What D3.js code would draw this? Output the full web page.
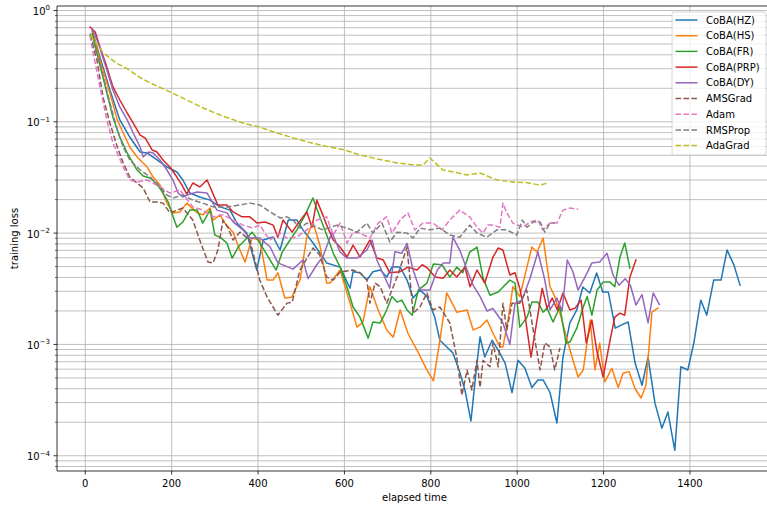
<!DOCTYPE html>
<html><head><meta charset="utf-8">
<script src="https://cdn.jsdelivr.net/npm/d3@7"></script>
<style>body{margin:0;background:#fff} svg text{font-family:"DejaVu Sans",sans-serif;fill:#000}</style>
</head><body><svg id="c" width="767" height="508"></svg>
<script>
const seriesNames = ["CoBA(HZ)","CoBA(HS)","CoBA(FR)","CoBA(PRP)","CoBA(DY)","AMSGrad","Adam","RMSProp","AdaGrad"];
const seriesColors = ["#1f77b4","#ff7f0e","#2ca02c","#d62728","#9467bd","#8c564b","#e377c2","#7f7f7f","#bcbd22"];
const seriesDashed = [false,false,false,false,false,true,true,true,true];
const xTicks = [0,200,400,600,800,1000,1200,1400];
const yTicks = [1e-4,1e-3,1e-2,1e-1,1];
const yTickExp = ["\u22124","\u22123","\u22122","\u22121","0"];

// [elapsed time, training loss]
const cobaHZ = [[16,0.65],[34,0.38],[57,0.193],[80,0.104],[103,0.073],[127,0.0535],[143,0.0525],[166,0.0454],[189,0.0393],[212,0.0354],[226,0.030],[242,0.0229],[265,0.0211],[289,0.0198],[312,0.0172],[335,0.0161],[351,0.0123],[374,0.0100],[397,0.00466],[412,0.00867],[435,0.00923],[451,0.00705],[470,0.0131],[490,0.0131],[504,0.0107],[527,0.0082],[559,0.0054],[590,0.00495],[613,0.0032],[620,0.0045],[636,0.0044],[652,0.00379],[666,0.0045],[683,0.00466],[698,0.00403],[710,0.00495],[729,0.00495],[745,0.00379],[759,0.00261],[775,0.00308],[791,0.0027],[809,0.00176],[821,0.00109],[837,0.00095],[851,0.00084],[867,0.000565],[879,0.00039],[893,0.000205],[905,0.000585],[914,0.00117],[925,0.00077],[942,0.00109],[956,0.00089],[972,0.00068],[988,0.00037],[1002,0.00072],[1018,0.00061],[1034,0.00041],[1048,0.00048],[1060,0.00048],[1076,0.00037],[1092,0.000197],[1106,0.00077],[1122,0.00156],[1138,0.00204],[1152,0.00328],[1168,0.0029],[1184,0.00438],[1198,0.00296],[1211,0.00296],[1227,0.0014],[1242,0.0015],[1257,0.00159],[1273,0.00068],[1289,0.00043],[1303,0.00077],[1319,0.000297],[1335,0.000177],[1349,0.000247],[1365,0.000112],[1379,0.00063],[1395,0.00059],[1409,0.00103],[1425,0.0025],[1439,0.00183],[1455,0.00379],[1472,0.00379],[1486,0.00705],[1502,0.00516],[1516,0.00341]];
const cobaHS = [[16,0.66],[34,0.359],[57,0.181],[74,0.104],[88,0.0793],[103,0.0594],[120,0.0483],[143,0.0393],[157,0.0319],[173,0.027],[189,0.0186],[203,0.0152],[219,0.0155],[235,0.0186],[259,0.0152],[272,0.0146],[289,0.0168],[296,0.0131],[312,0.0146],[323,0.0123],[342,0.0102],[358,0.00705],[370,0.0055],[386,0.00904],[404,0.00867],[421,0.00379],[435,0.00379],[446,0.0044],[462,0.00261],[478,0.00266],[497,0.00379],[513,0.00923],[527,0.0126],[543,0.00782],[559,0.00356],[567,0.00356],[590,0.00466],[613,0.00235],[629,0.00143],[643,0.00159],[659,0.0033],[678,0.00204],[698,0.00135],[713,0.00116],[729,0.00204],[747,0.00126],[768,0.00089],[780,0.00072],[791,0.00059],[806,0.00047],[821,0.00109],[837,0.0029],[860,0.00195],[884,0.00204],[898,0.00135],[914,0.00143],[930,0.00166],[944,0.00126],[960,0.00095],[967,0.00095],[979,0.00166],[990,0.0033],[1006,0.0027],[1034,0.0075],[1046,0.00676],[1060,0.00904],[1076,0.0033],[1087,0.0027],[1099,0.00191],[1116,0.00109],[1127,0.00077],[1141,0.00051],[1153,0.00059],[1169,0.00166],[1180,0.00059],[1191,0.00103],[1203,0.00046],[1219,0.00061],[1234,0.00041],[1245,0.00055],[1259,0.00057],[1273,0.0004],[1287,0.00033],[1298,0.00043],[1312,0.00195],[1326,0.00212]];
const cobaFR = [[16,0.62],[27,0.415],[50,0.181],[64,0.110],[80,0.073],[97,0.0525],[120,0.0369],[134,0.0326],[150,0.0313],[166,0.0276],[180,0.0229],[192,0.019],[201,0.0149],[212,0.0113],[226,0.0126],[242,0.0161],[259,0.0161],[272,0.0123],[289,0.0161],[300,0.0096],[312,0.0092],[328,0.00815],[340,0.00597],[354,0.0075],[370,0.00867],[386,0.0102],[400,0.00867],[414,0.00705],[428,0.00573],[442,0.00466],[456,0.00676],[474,0.00867],[490,0.0107],[509,0.0146],[527,0.0207],[543,0.0140],[559,0.0096],[574,0.00662],[590,0.00495],[606,0.00328],[620,0.00217],[636,0.00176],[655,0.00114],[666,0.00159],[683,0.00156],[698,0.00204],[710,0.0027],[722,0.0024],[733,0.0025],[745,0.00204],[757,0.00183],[771,0.00308],[791,0.00356],[806,0.00527],[826,0.0052],[844,0.00403],[860,0.00495],[874,0.0044],[890,0.00676],[907,0.0075],[921,0.00394],[937,0.00277],[956,0.00296],[983,0.00379],[995,0.00356],[1006,0.00143],[1023,0.00176],[1034,0.0024],[1048,0.0024],[1060,0.00195],[1069,0.00212],[1083,0.00159],[1099,0.00217],[1113,0.00103],[1122,0.00105],[1138,0.0014],[1153,0.00217],[1162,0.0027],[1173,0.00183],[1185,0.00308],[1199,0.00363],[1215,0.00363],[1226,0.0033],[1238,0.0061],[1249,0.00815],[1261,0.00485]];
const cobaPRP = [[11,0.71],[23,0.64],[34,0.47],[50,0.31],[64,0.206],[80,0.157],[97,0.12],[111,0.0975],[127,0.076],[139,0.0715],[155,0.0558],[166,0.0535],[180,0.0454],[196,0.0393],[212,0.0319],[224,0.027],[235,0.0224],[249,0.0282],[265,0.026],[282,0.030],[296,0.0224],[307,0.0179],[328,0.0179],[342,0.0155],[363,0.0140],[381,0.0140],[398,0.0123],[416,0.0126],[435,0.0118],[446,0.0092],[458,0.0131],[479,0.0102],[493,0.0123],[504,0.014],[513,0.0155],[525,0.0113],[536,0.0198],[548,0.0152],[559,0.0118],[574,0.00867],[590,0.0075],[606,0.0061],[620,0.0078],[636,0.0061],[659,0.00867],[675,0.00597],[690,0.00573],[705,0.0044],[729,0.0045],[747,0.00495],[768,0.00466],[780,0.0052],[791,0.0049],[810,0.00403],[829,0.00394],[844,0.00466],[860,0.00403],[879,0.00495],[891,0.0033],[907,0.00466],[925,0.00356],[944,0.0061],[956,0.00735],[967,0.00705],[983,0.0042],[995,0.0044],[1006,0.0032],[1018,0.00183],[1032,0.00077],[1058,0.0032],[1069,0.00212],[1081,0.00261],[1093,0.00204],[1106,0.0029],[1122,0.00204],[1134,0.00212],[1148,0.0025],[1160,0.00103],[1173,0.00166],[1185,0.00085],[1199,0.00051],[1215,0.00109],[1226,0.00176],[1238,0.00191],[1249,0.00183],[1261,0.00403],[1275,0.00573]];
const cobaDY = [[16,0.68],[30,0.51],[50,0.292],[64,0.193],[80,0.136],[97,0.104],[111,0.0793],[127,0.0594],[134,0.0483],[146,0.0535],[157,0.0525],[173,0.0454],[189,0.0369],[203,0.030],[215,0.0229],[226,0.0211],[235,0.022],[259,0.0234],[282,0.0229],[305,0.0161],[328,0.0152],[342,0.0126],[365,0.0107],[381,0.00904],[404,0.00904],[428,0.0075],[446,0.0054],[481,0.00475],[504,0.00573],[516,0.0039],[536,0.0052],[550,0.0061],[571,0.0102],[590,0.00676],[606,0.00597],[629,0.00597],[652,0.00705],[664,0.00867],[675,0.00573],[705,0.0032],[717,0.0068],[733,0.0066],[745,0.0081],[759,0.00466],[775,0.00308],[798,0.00308],[815,0.00466],[829,0.0054],[844,0.0054],[851,0.0092],[867,0.00705],[884,0.00466],[898,0.0034],[914,0.0027],[930,0.002],[944,0.0021],[956,0.0018],[967,0.00156],[983,0.001],[995,0.00235],[1011,0.0025],[1030,0.00395],[1048,0.00676],[1064,0.00379],[1076,0.00204],[1092,0.00261],[1104,0.002],[1116,0.00573],[1129,0.0045],[1141,0.00308],[1162,0.0044],[1173,0.0054],[1191,0.0055],[1208,0.0066],[1222,0.0042],[1236,0.0034],[1250,0.0039],[1262,0.0034],[1275,0.00226],[1289,0.0028],[1303,0.00156],[1315,0.0029],[1329,0.00229]];
const amsGrad = [[11,0.6],[27,0.359],[41,0.167],[57,0.0975],[74,0.0594],[88,0.0427],[103,0.0319],[120,0.0282],[134,0.0254],[150,0.019],[166,0.019],[180,0.0186],[196,0.0152],[226,0.0168],[249,0.0131],[265,0.00867],[284,0.0055],[296,0.0054],[307,0.00705],[319,0.0131],[331,0.0111],[342,0.00867],[358,0.0102],[381,0.00867],[404,0.00379],[421,0.00266],[446,0.00183],[467,0.00235],[479,0.0024],[497,0.00466],[527,0.00735],[543,0.00635],[559,0.00403],[574,0.00379],[590,0.00447],[620,0.00466],[636,0.0044],[652,0.00379],[659,0.00235],[671,0.00356],[683,0.0033],[698,0.00235],[722,0.00403],[745,0.0075],[759,0.00191],[775,0.00217],[791,0.0029],[805,0.00204],[821,0.00217],[844,0.00156],[860,0.00077],[872,0.00035],[884,0.00059],[895,0.00039],[907,0.00072],[914,0.00041],[921,0.00072],[937,0.00063],[944,0.00103],[956,0.00063],[967,0.00235],[976,0.00135],[988,0.00235],[1006,0.00235],[1022,0.00308],[1037,0.00135],[1053,0.00059],[1064,0.00103],[1076,0.00095],[1087,0.00059],[1099,0.00093]];
const adam = [[11,0.6],[18,0.42],[34,0.206],[50,0.104],[64,0.0645],[88,0.0393],[103,0.030],[120,0.0288],[143,0.030],[157,0.0282],[173,0.026],[196,0.0229],[219,0.0244],[249,0.0172],[272,0.0161],[296,0.0140],[319,0.0146],[342,0.0131],[365,0.0118],[388,0.0111],[404,0.0118],[427,0.00867],[451,0.0100],[467,0.00904],[490,0.00923],[513,0.0107],[536,0.0131],[559,0.0140],[574,0.0096],[590,0.0123],[606,0.00815],[620,0.0102],[636,0.0100],[659,0.00904],[678,0.0123],[698,0.0140],[710,0.0100],[729,0.0131],[747,0.0152],[763,0.0107],[782,0.0123],[805,0.0123],[826,0.0107],[844,0.0131],[867,0.0161],[890,0.0140],[907,0.0113],[921,0.0100],[932,0.0118],[944,0.0118],[960,0.0113],[967,0.0186],[976,0.0152],[990,0.0123],[1013,0.0113],[1030,0.0126],[1048,0.0131],[1059,0.0107],[1076,0.0123],[1092,0.0123],[1106,0.0161],[1122,0.0168],[1141,0.0164]];
const rmsProp = [[11,0.62],[34,0.337],[57,0.148],[74,0.0843],[88,0.0594],[103,0.0454],[127,0.0369],[150,0.0319],[173,0.026],[189,0.022],[203,0.0207],[226,0.022],[249,0.0198],[272,0.0186],[296,0.0172],[328,0.0172],[358,0.0179],[381,0.0186],[404,0.0179],[428,0.0155],[451,0.0137],[467,0.0140],[481,0.0131],[497,0.0111],[513,0.0123],[536,0.0113],[550,0.0107],[567,0.0113],[583,0.0118],[606,0.0111],[629,0.0102],[652,0.0123],[666,0.0100],[687,0.0123],[705,0.00832],[722,0.0102],[745,0.0100],[759,0.00904],[775,0.0111],[798,0.0107],[821,0.0111],[844,0.0096],[867,0.0092],[890,0.0118],[907,0.0100],[930,0.0092],[953,0.0107],[976,0.0107],[999,0.0096],[1012,0.0131],[1023,0.0113],[1037,0.0126],[1053,0.0126],[1064,0.0102],[1076,0.0123],[1087,0.0123]];
const adaGrad = [[11,0.6],[41,0.42],[70,0.34],[97,0.30],[130,0.245],[165,0.21],[197,0.185],[235,0.157],[273,0.133],[320,0.112],[365,0.0975],[404,0.0897],[440,0.08],[480,0.072],[515,0.0658],[560,0.06],[601,0.0558],[636,0.0503],[680,0.046],[722,0.0427],[760,0.041],[782,0.0409],[798,0.0473],[828,0.0369],[860,0.035],[883,0.0333],[914,0.0347],[953,0.030],[990,0.0288],[1020,0.0285],[1053,0.027],[1071,0.0282]];

const seriesData = [cobaHZ,cobaHS,cobaFR,cobaPRP,cobaDY,amsGrad,adam,rmsProp,adaGrad];

const W = 767, H = 508;
const M = {left:57, right:772, top:6, bottom:471};
const svg = d3.select("#c");
const x = d3.scaleLinear().domain([-65.5, 1590]).range([M.left, M.right]);
const y = d3.scaleLog().domain([Math.pow(10,-4.137), Math.pow(10,0.0404)]).range([M.bottom, M.top]);

// minor log ticks
const yMinor = [];
for (let k=-5;k<=0;k++) for (let m=2;m<=9;m++){ const v=m*Math.pow(10,k); if (v>=y.domain()[0] && v<=y.domain()[1]) yMinor.push(v); }

const grid = svg.append("g");
grid.selectAll("line.gy").data(yTicks.concat(yMinor)).enter().append("line")
  .attr("x1",M.left).attr("x2",M.right).attr("y1",d=>y(d)).attr("y2",d=>y(d))
  .attr("stroke","#b0b0b0").attr("stroke-width",0.8);
grid.selectAll("line.gx").data(xTicks).enter().append("line")
  .attr("x1",d=>x(d)).attr("x2",d=>x(d)).attr("y1",M.top).attr("y2",M.bottom)
  .attr("stroke","#b0b0b0").attr("stroke-width",0.8);

svg.append("clipPath").attr("id","clip").append("rect")
  .attr("x",M.left).attr("y",M.top).attr("width",M.right-M.left).attr("height",M.bottom-M.top);

const line = d3.line().x(d=>x(d[0])).y(d=>y(d[1]));
const lines = svg.append("g").attr("clip-path","url(#clip)");
seriesData.forEach((data,i)=>{
  lines.append("path").datum(data).attr("d",line).attr("fill","none")
    .attr("stroke",seriesColors[i]).attr("stroke-width",1.5)
    .attr("stroke-linejoin","round").attr("stroke-linecap", seriesDashed[i]?"butt":"square")
    .attr("stroke-dasharray", seriesDashed[i]?"5.55,2.4":null);
});

// spines
const ax = svg.append("g").attr("stroke","#000").attr("stroke-width",0.8);
ax.append("line").attr("x1",M.left).attr("x2",M.left).attr("y1",M.top).attr("y2",M.bottom);
ax.append("line").attr("x1",M.left).attr("x2",M.right).attr("y1",M.bottom).attr("y2",M.bottom);
ax.append("line").attr("x1",M.left).attr("x2",M.right).attr("y1",M.top).attr("y2",M.top);
ax.append("line").attr("x1",M.right).attr("x2",M.right).attr("y1",M.top).attr("y2",M.bottom);

// x ticks
xTicks.forEach(t=>{
  ax.append("line").attr("x1",x(t)).attr("x2",x(t)).attr("y1",M.bottom).attr("y2",M.bottom+3.5);
  svg.append("text").attr("x",x(t)).attr("y",M.bottom+16).attr("text-anchor","middle").attr("font-size",10).text(t);
});
// y ticks
yTicks.forEach((t,i)=>{
  ax.append("line").attr("x1",M.left-3.5).attr("x2",M.left).attr("y1",y(t)).attr("y2",y(t));
  const tx = svg.append("text").attr("x",M.left-7).attr("y",y(t)+4.5).attr("text-anchor","end").attr("font-size",10);
  tx.append("tspan").text("10");
  tx.append("tspan").attr("dy",-4.5).attr("font-size",7).text(yTickExp[i]);
});
yMinor.forEach(t=>{
  ax.append("line").attr("x1",M.left-2).attr("x2",M.left).attr("y1",y(t)).attr("y2",y(t)).attr("stroke-width",0.6);
});

svg.append("text").attr("x",(M.left+M.right)/2).attr("y",500.5).attr("text-anchor","middle").attr("font-size",10).text("elapsed time");
svg.append("text").attr("transform",`translate(18,${(M.top+M.bottom)/2}) rotate(-90)`).attr("text-anchor","middle").attr("font-size",10).text("training loss");

// legend
const lg = svg.append("g");
lg.append("rect").attr("x",672).attr("y",12).attr("width",94).attr("height",143).attr("rx",2)
  .attr("fill","#fff").attr("fill-opacity",0.8).attr("stroke","#cccccc").attr("stroke-width",0.8);
seriesNames.forEach((n,i)=>{
  const yy = 20 + i*15.7;
  lg.append("line").attr("x1",675.5).attr("x2",697.5).attr("y1",yy).attr("y2",yy)
    .attr("stroke",seriesColors[i]).attr("stroke-width",1.5)
    .attr("stroke-dasharray", seriesDashed[i]?"5.55,2.4":null);
  lg.append("text").attr("x",706).attr("y",yy+3.6).attr("font-size",10).text(n);
});
</script></body></html>
